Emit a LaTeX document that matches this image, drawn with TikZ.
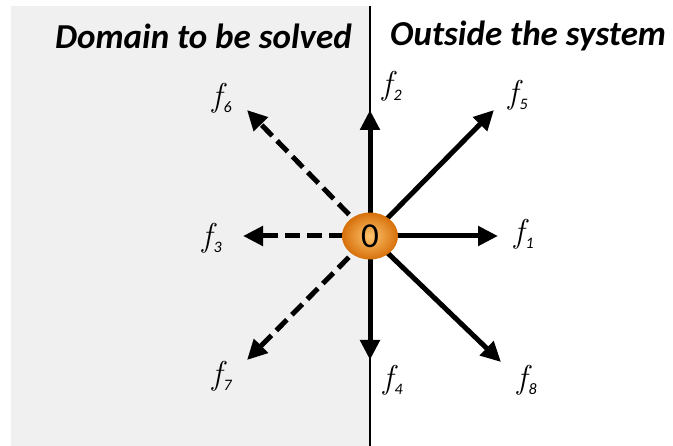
\documentclass[tikz,border=0pt]{standalone}
\usepackage{fontspec}
\newfontfamily\hdfont{Carlito}
\usetikzlibrary{arrows.meta,shadings,calc,shapes.geometric}
\definecolor{ballin}{RGB}{255,196,110}
\definecolor{ballout}{RGB}{214,112,10}
\newcommand{\fl}[1]{{\fontsize{33}{34}\selectfont\itshape f}\kern1.5pt\raisebox{-6pt}{\hdfont\fontsize{16}{17}\selectfont\itshape #1}}
\begin{document}
\begin{tikzpicture}[x=1pt,y=-1pt,
  flow/.style={line width=5pt,-{Triangle[length=20pt,width=19pt]}},
  dflow/.style={flow,dash pattern=on 15pt off 7pt},
  flab/.style={inner sep=0pt},
  head/.style={font=\hdfont\bfseries\itshape\fontsize{35}{38}\selectfont}]
\useasboundingbox (0,0) rectangle (673,446);
\fill[gray!12] (11,6) rectangle (369,446);
\draw[line width=1.6pt] (370,6) -- (370,446);
\node[head,anchor=east,inner sep=0pt] (hl) at (352,36) {Domain to be solved};
\node[head,anchor=west,inner sep=0pt] (hr) at (390,36) {Outside the system};
\coordinate (o) at (370,236);
\coordinate (e1) at (498,236);
\coordinate (e2) at (370,110);
\coordinate (e4) at (370,360);
\coordinate (e5) at (494,110);
\coordinate (e8) at (501,362);
\coordinate (e3) at (243,236);
\coordinate (e6) at (247,110);
\coordinate (e7) at (247,360);
\draw[flow] (o) -- (e1);
\draw[flow] (o) -- (e2);
\draw[flow] (o) -- (e4);
\draw[flow] (o) -- (e5);
\draw[flow] (o) -- (e8);
\draw[dflow] ($(o)!26pt!(e3)$) -- (e3);
\draw[dflow] ($(o)!30pt!(e6)$) -- (e6);
\draw[dflow] ($(o)!30pt!(e7)$) -- (e7);
\node[ellipse, minimum width=56pt, minimum height=47pt, inner sep=0pt,
  shading=radial, inner color=ballin, outer color=ballout, draw=none,
  font=\hdfont\fontsize{35}{36}\selectfont] (c) at (o) {0};
\node[flab] (l1) at (524,234) {\fl{1}};
\node[flab] (l2) at (392,86) {\fl{2}};
\node[flab] (l3) at (212,238) {\fl{3}};
\node[flab] (l4) at (393,380) {\fl{4}};
\node[flab] (l5) at (518,95) {\fl{5}};
\node[flab] (l6) at (222,98) {\fl{6}};
\node[flab] (l7) at (222,376) {\fl{7}};
\node[flab] (l8) at (527,380) {\fl{8}};
\end{tikzpicture}
\end{document}
